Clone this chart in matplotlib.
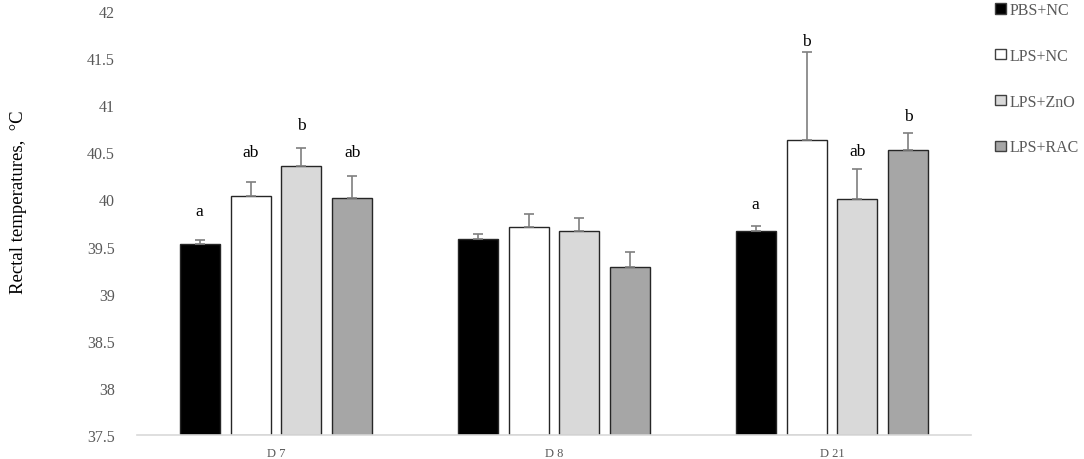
import matplotlib.pyplot as plt
import numpy as np

days = ['D 7', 'D 8', 'D 21']
groups = ['PBS+NC', 'LPS+NC', 'LPS+ZnO', 'LPS+RAC']

pbs_nc = [39.53, 39.58, 39.67]
lps_nc = [40.04, 39.71, 40.63]
lps_zno = [40.36, 39.66, 40.01]
lps_rac = [40.02, 39.28, 40.53]

pbs_nc_se = [0.04, 0.05, 0.05]
lps_nc_se = [0.15, 0.14, 0.93]
lps_zno_se = [0.19, 0.14, 0.31]
lps_rac_se = [0.23, 0.16, 0.17]

# significance letters and their heights (°C), '' = none
letters = [['a', 'ab', 'b', 'ab'], ['', '', '', ''], ['a', 'b', 'ab', 'b']]
letter_y = [[39.88, 40.50, 40.79, 40.50], [0, 0, 0, 0], [39.95, 41.68, 40.51, 40.89]]

means = [pbs_nc, lps_nc, lps_zno, lps_rac]
errs = [pbs_nc_se, lps_nc_se, lps_zno_se, lps_rac_se]
colors = ['#000000', '#ffffff', '#d9d9d9', '#a6a6a6']

plt.rcParams['font.family'] = ['Liberation Serif', 'DejaVu Serif']

fig = plt.figure(figsize=(10.84, 4.6), dpi=100)
ax = fig.add_axes([0.1264, 0.0522, 0.7694, 0.9217])

x = np.arange(len(days))
width = 0.144
step = 0.183
base = 37.5

handles = []
for i in range(len(groups)):
    xpos = x + (i - 1.5) * step
    heights = np.array(means[i]) - base
    b = ax.bar(xpos, heights, width, bottom=base, color=colors[i],
               edgecolor='#262626', linewidth=1.0, label=groups[i], zorder=2)
    handles.append(b)
    ax.errorbar(xpos, means[i], yerr=[np.zeros(3), errs[i]], fmt='none',
                ecolor='#7f7f7f', elinewidth=1.2, capsize=3.5, capthick=1.2, zorder=3)
    for j in range(len(days)):
        if letters[j][i]:
            ax.text(xpos[j], letter_y[j][i], letters[j][i], ha='center', va='center',
                    fontsize=12.5, color='black')

ax.set_xlim(-0.5, 2.5)
ax.set_ylim(37.5, 42)
ax.set_yticks(np.arange(37.5, 42.01, 0.5))
ax.set_yticklabels(['37.5', '38', '38.5', '39', '39.5', '40', '40.5', '41', '41.5', '42'])
ax.set_xticks(x)
ax.set_xticklabels(days)
ax.tick_params(axis='y', length=0, pad=16, labelsize=11.5, labelcolor='#595959')
ax.tick_params(axis='x', length=0, pad=9, labelsize=9, labelcolor='#595959')
for s in ['top', 'right', 'left']:
    ax.spines[s].set_visible(False)
ax.spines['bottom'].set_color('#d9d9d9')
ax.spines['bottom'].set_linewidth(1.2)

fig.text(0.017, 0.561, 'Rectal temperatures,  \u00b0C', rotation=90, ha='center',
         va='center', fontsize=13.5, color='black')

leg = fig.legend(handles=handles, loc='upper left', bbox_to_anchor=(0.905, 1.025),
                 frameon=False, fontsize=11.5, handlelength=0.65, handleheight=0.65,
                 handletextpad=0.25, labelspacing=1.87, labelcolor='#595959')
for h in leg.legend_handles:
    h.set_edgecolor('#404040')

fig.savefig('out.png', dpi=100)
